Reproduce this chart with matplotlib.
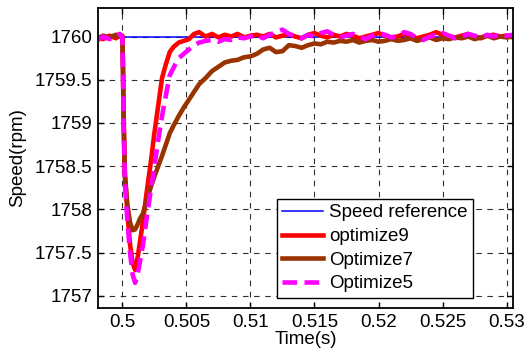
import matplotlib
matplotlib.use("Agg")
import matplotlib.pyplot as plt

plt.rcParams['font.family'] = ['Liberation Sans', 'DejaVu Sans']

time_s = [0.4981, 0.4985, 0.4990, 0.4995, 0.4998, 0.5000, 0.50005, 0.5001, 0.5002, 0.5004,
          0.5006, 0.5008, 0.5010, 0.5012, 0.5014, 0.5016, 0.5019, 0.5022, 0.5025, 0.5028,
          0.5031, 0.5034, 0.5037, 0.5040, 0.5044, 0.5048, 0.5052, 0.5056, 0.5060, 0.5065,
          0.5070, 0.5075, 0.5080, 0.5085, 0.5090, 0.5095, 0.5100,
          0.5105, 0.5110, 0.5115, 0.5120, 0.5125, 0.5130, 0.5135, 0.5140, 0.5145, 0.5150,
          0.5155, 0.5160, 0.5165, 0.5170, 0.5175, 0.5180, 0.5185, 0.5190, 0.5195, 0.5200,
          0.5205, 0.5210, 0.5215, 0.5220, 0.5225, 0.5230, 0.5235, 0.5240, 0.5245, 0.5250,
          0.5255, 0.5260, 0.5265, 0.5270, 0.5275, 0.5280, 0.5285, 0.5290, 0.5295, 0.5300,
          0.5305]

ref_time = [0.4981, 0.5305]
ref_speed = [1760.0, 1760.0]

optimize9 = [1759.99, 1759.97, 1760.01, 1759.98, 1760.02, 1760.00, 1759.70, 1759.10, 1758.40, 1757.95,
             1757.60, 1757.38, 1757.30, 1757.45, 1757.65, 1757.85, 1758.20, 1758.52, 1758.88, 1759.20,
             1759.52, 1759.68, 1759.82, 1759.88, 1759.93, 1759.95, 1759.97, 1760.03, 1760.05, 1760.00,
             1760.03, 1759.99, 1760.02, 1760.00, 1760.03, 1759.99, 1760.01,
             1760.02, 1760.00, 1760.03, 1759.99, 1760.01, 1760.03, 1760.00, 1759.98, 1760.02, 1760.04,
             1760.01, 1759.99, 1760.02, 1760.00, 1760.03, 1760.01, 1759.98, 1760.00, 1760.02, 1760.04,
             1760.01, 1759.99, 1760.00, 1760.03, 1760.01, 1759.98, 1760.00, 1760.02, 1760.05, 1760.02,
             1760.00, 1759.99, 1760.01, 1760.03, 1760.00, 1759.98, 1760.01, 1760.02, 1760.00, 1760.01,
             1759.99]

optimize7 = [1759.98, 1760.01, 1759.99, 1760.02, 1760.00, 1760.01, 1759.60, 1759.00, 1758.40, 1758.05,
             1757.85, 1757.76, 1757.77, 1757.83, 1757.90, 1757.95, 1758.10, 1758.25, 1758.38, 1758.50,
             1758.62, 1758.75, 1758.88, 1758.97, 1759.08, 1759.18, 1759.27, 1759.36, 1759.45, 1759.52,
             1759.60, 1759.65, 1759.70, 1759.72, 1759.73, 1759.76, 1759.77,
             1759.80, 1759.85, 1759.87, 1759.82, 1759.83, 1759.90, 1759.89, 1759.87, 1759.90, 1759.92,
             1759.91, 1759.94, 1759.93, 1759.95, 1759.94, 1759.96, 1759.93, 1759.95, 1759.96, 1759.94,
             1759.95, 1759.97, 1759.95, 1759.96, 1759.98, 1759.95, 1759.97, 1759.99, 1759.96, 1759.98,
             1759.97, 1759.99, 1759.98, 1760.00, 1759.97, 1759.99, 1760.01, 1759.98, 1760.00, 1759.99,
             1760.00]

optimize5 = [1759.96, 1760.00, 1759.97, 1760.01, 1760.03, 1759.99, 1759.60, 1759.00, 1758.30, 1757.85,
             1757.50, 1757.25, 1757.15, 1757.25, 1757.42, 1757.58, 1757.90, 1758.20, 1758.50, 1758.80,
             1759.08, 1759.32, 1759.55, 1759.64, 1759.75, 1759.80, 1759.85, 1759.90, 1759.93, 1759.95,
             1759.96, 1759.94, 1759.97, 1759.96, 1759.99, 1759.98, 1760.00,
             1760.01, 1759.98, 1760.02, 1760.05, 1760.08, 1760.03, 1760.00, 1759.98, 1760.02, 1760.00,
             1760.04, 1760.06, 1760.02, 1759.99, 1760.01, 1760.03, 1760.00, 1759.97, 1760.01, 1760.04,
             1760.02, 1759.99, 1760.00, 1760.05, 1760.03, 1759.98, 1759.96, 1760.00, 1760.02, 1760.04,
             1760.01, 1759.98, 1760.00, 1760.03, 1760.01, 1759.99, 1760.02, 1760.00, 1760.03, 1760.01,
             1760.02]

x_ticks = [0.5, 0.505, 0.51, 0.515, 0.52, 0.525, 0.53]
x_tick_labels = ['0.5', '0.505', '0.51', '0.515', '0.52', '0.525', '0.53']
y_ticks = [1757, 1757.5, 1758, 1758.5, 1759, 1759.5, 1760]
y_tick_labels = ['1757', '1757.5', '1758', '1758.5', '1759', '1759.5', '1760']

fig = plt.figure(figsize=(5.26, 3.53), dpi=100)
ax = fig.add_axes([98/526, 45/353, 415/526, 300/353])

ax.plot(ref_time, ref_speed, color='#0000ff', lw=1.1, label='Speed reference')
ax.plot(time_s, optimize9, color='#ff0000', lw=3.3, label='optimize9')
ax.plot(time_s, optimize7, color='#993300', lw=3.3, label='Optimize7')
ax.plot(time_s, optimize5, color='#ff00ff', lw=3.3, linestyle=(0, (3.2, 1.6)), label='Optimize5')

ax.set_xlim(0.4981, 0.5305)
ax.set_ylim(1756.86, 1760.33)
ax.set_xticks(x_ticks)
ax.set_xticklabels(x_tick_labels)
ax.set_yticks(y_ticks)
ax.set_yticklabels(y_tick_labels)
ax.tick_params(direction='in', length=4, width=1, labelsize=13.5, top=True, right=True,
               labeltop=False, labelright=False, pad=4)
ax.grid(True, color='#303030', linestyle=(0, (5, 5)), lw=0.8)
for s in ax.spines.values():
    s.set_linewidth(1.3)
    s.set_color('black')

ax.set_xlabel('Time(s)', fontsize=13.5, labelpad=0)
ax.set_ylabel('Speed(rpm)', fontsize=13.5, labelpad=6)

leg = ax.legend(loc='lower right', bbox_to_anchor=(0.904, 0.033), fontsize=13.5,
                frameon=True, fancybox=False, edgecolor='black', framealpha=1,
                handlelength=2.2, handletextpad=0.3, labelspacing=0.35,
                borderpad=0.3, borderaxespad=0)
leg.get_frame().set_linewidth(1.0)

fig.savefig('out.png', dpi=100)
